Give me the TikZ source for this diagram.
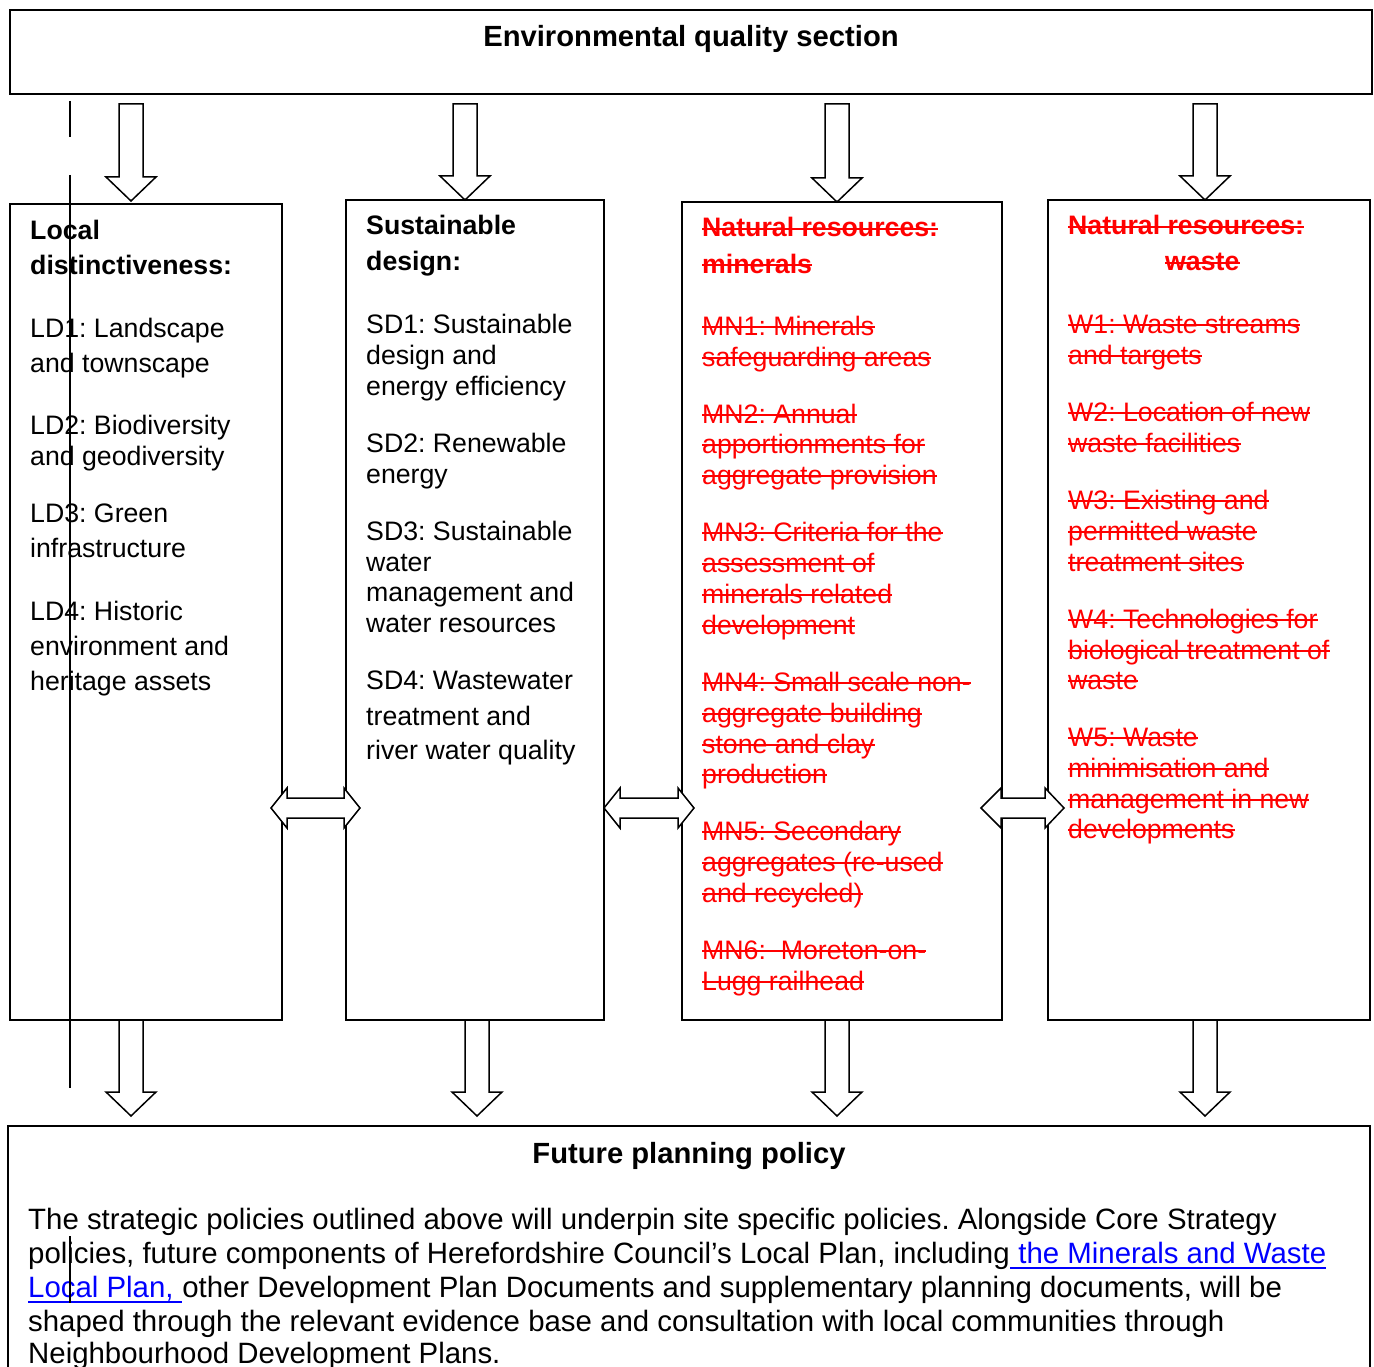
\documentclass[tikz,border=0pt]{standalone}
\usepackage{fontspec}
\setmainfont{Liberation Sans}
\frenchspacing
\definecolor{strk}{RGB}{255,0,0}
\definecolor{lnk}{RGB}{0,0,255}
\newcommand\redline[4]{%
  \node[#1] (#2) at (#3) {#4};
  \draw[strikeline] ([yshift=8pt]#2.base west) -- ([yshift=8pt]#2.base east);}
\newcommand\blockdown[3]{%
  \draw[blk] (#1-12,#2) -- (#1+12,#2) -- (#1+12,#3-24) -- (#1+25,#3-24) -- (#1,#3)
    -- (#1-25,#3-24) -- (#1-12,#3-24) -- cycle;}
\newcommand\blockboth[5]{%
  \draw[blk] (#1,#5) -- (#2,#5-20) -- (#2,#5-10) -- (#3,#5-10) -- (#3,#5-20) -- (#4,#5)
    -- (#3,#5+20) -- (#3,#5+10) -- (#2,#5+10) -- (#2,#5+20) -- cycle;}
\tikzset{
  box/.style={draw, line width=1.8pt, rectangle, inner sep=0pt},
  blk/.style={draw, fill=white, line width=1.5pt, line join=miter},
  txt/.style={anchor=base west, inner sep=0pt, font=\fontsize{26.7}{31}\selectfont},
  hd/.style={anchor=base west, inner sep=0pt, font=\fontsize{26.7}{31}\selectfont\bfseries},
  rtxt/.style={txt, text=strk},
  rhd/.style={hd, text=strk},
  strikeline/.style={draw=strk, line width=2.2pt},
  title/.style={anchor=base, inner sep=0pt, font=\fontsize{29.2}{34}\selectfont\bfseries},
  btxt/.style={anchor=base west, inner sep=0pt, font=\fontsize{29.4}{34}\selectfont},
  artifact/.style={line width=1.5pt}
}
\begin{document}
\begin{tikzpicture}[x=1pt,y=-1pt]
\useasboundingbox (0,0) rectangle (1374,1367);

% boxes
\node[box, minimum width=1362pt, minimum height=84pt] (top) at (691,52) {};
\node[box, minimum width=272pt, minimum height=816pt] (ld) at (146,612) {};
\node[box, minimum width=258pt, minimum height=820pt] (sd) at (475,610) {};
\node[box, minimum width=320pt, minimum height=818pt] (mn) at (842,611) {};
\node[box, minimum width=322pt, minimum height=820pt] (w) at (1209,610) {};
\node[inner sep=0pt, minimum width=1362pt, minimum height=241pt] (fpp) at (689,1246.5) {};
\draw[line width=1.8pt] (fpp.south west) |- (fpp.north east) -- (fpp.south east);

% titles
\node[title] (toptitle) at (691,47) {Environmental quality section};
\node[title] (fpptitle) at (689,1163) {Future planning policy};

% column 1
\node[hd] (ld0a) at (30,240) {Local};
\node[hd] (ld0b) at (30,275) {distinctiveness:};
\node[txt] (ld1a) at (30,337) {LD1: Landscape};
\node[txt] (ld1b) at (30,372) {and townscape};
\node[txt] (ld2a) at (30,434) {LD2: Biodiversity};
\node[txt] (ld2b) at (30,465) {and geodiversity};
\node[txt] (ld3a) at (30,522) {LD3: Green};
\node[txt] (ld3b) at (30,557) {infrastructure};
\node[txt] (ld4a) at (30,620) {LD4: Historic};
\node[txt] (ld4b) at (30,655) {environment and};
\node[txt] (ld4c) at (30,690) {heritage assets};

% column 2
\node[hd] (sd0a) at (366,235) {Sustainable};
\node[hd] (sd0b) at (366,271) {design:};
\node[txt] (sd1a) at (366,333) {SD1: Sustainable};
\node[txt] (sd1b) at (366,364) {design and};
\node[txt] (sd1c) at (366,395) {energy efficiency};
\node[txt] (sd2a) at (366,452) {SD2: Renewable};
\node[txt] (sd2b) at (366,483) {energy};
\node[txt] (sd3a) at (366,540) {SD3: Sustainable};
\node[txt] (sd3b) at (366,571) {water};
\node[txt] (sd3c) at (366,601) {management and};
\node[txt] (sd3d) at (366,632) {water resources};
\node[txt] (sd4a) at (366,689) {SD4: Wastewater};
\node[txt] (sd4b) at (366,725) {treatment and};
\node[txt] (sd4c) at (366,759) {river water quality};

% column 3
\redline{rhd}{mn0a}{702,237}{Natural resources:}
\redline{rhd}{mn0b}{702,273}{minerals}
\redline{rtxt}{mn1a}{702,335}{MN1: Minerals}
\redline{rtxt}{mn1b}{702,366}{safeguarding areas}
\redline{rtxt}{mn2a}{702,423}{MN2: Annual}
\redline{rtxt}{mn2b}{702,453}{apportionments for}
\redline{rtxt}{mn2c}{702,484}{aggregate provision}
\redline{rtxt}{mn3a}{702,541}{MN3: Criteria for the}
\redline{rtxt}{mn3b}{702,572}{assessment of}
\redline{rtxt}{mn3c}{702,603}{minerals related}
\redline{rtxt}{mn3d}{702,634}{development}
\redline{rtxt}{mn4a}{702,691}{MN4: Small scale non-}
\redline{rtxt}{mn4b}{702,722}{aggregate building}
\redline{rtxt}{mn4c}{702,753}{stone and clay}
\redline{rtxt}{mn4d}{702,783}{production}
\redline{rtxt}{mn5a}{702,840}{MN5: Secondary}
\redline{rtxt}{mn5b}{702,871}{aggregates (re-used}
\redline{rtxt}{mn5c}{702,902}{and recycled)}
\redline{rtxt}{mn6a}{702,959}{MN6: \ Moreton-on-}
\redline{rtxt}{mn6b}{702,990}{Lugg railhead}

% column 4
\redline{rhd}{w0a}{1068,235}{Natural resources:}
\redline{rhd}{w0b}{1165,271}{waste}
\redline{rtxt}{w1a}{1068,333}{W1: Waste streams}
\redline{rtxt}{w1b}{1068,364}{and targets}
\redline{rtxt}{w2a}{1068,421}{W2: Location of new}
\redline{rtxt}{w2b}{1068,452}{waste facilities}
\redline{rtxt}{w3a}{1068,509}{W3: Existing and}
\redline{rtxt}{w3b}{1068,540}{permitted waste}
\redline{rtxt}{w3c}{1068,571}{treatment sites}
\redline{rtxt}{w4a}{1068,628}{W4: Technologies for}
\redline{rtxt}{w4b}{1068,659}{biological treatment of}
\redline{rtxt}{w4c}{1068,689}{waste}
\redline{rtxt}{w5a}{1068,746}{W5: Waste}
\redline{rtxt}{w5b}{1068,777}{minimisation and}
\redline{rtxt}{w5c}{1068,808}{management in new}
\redline{rtxt}{w5d}{1068,838}{developments}

% bottom text
\node[btxt] (b1) at (28,1229) {The strategic policies outlined above will underpin site specific policies. Alongside Core Strategy};
\node[btxt] (b2a) at (28,1263) {policies, future components of Herefordshire Council’s Local Plan, including};
\node[btxt, text=lnk] (b2b) at (b2a.base east) {\ the Minerals and Waste};
\draw[lnk, line width=2pt] ([yshift=-5pt]b2b.base west) -- ([yshift=-5pt]b2b.base east);
\node[btxt, text=lnk] (b3a) at (28,1297) {Local Plan,\kern 8.2pt};
\draw[lnk, line width=2pt] ([yshift=-5pt]b3a.base west) -- ([yshift=-5pt]b3a.base east);
\node[btxt] (b3b) at (b3a.base east) {other Development Plan Documents and supplementary planning documents, will be};
\node[btxt] (b4) at (28,1331) {shaped through the relevant evidence base and consultation with local communities through};
\node[btxt] (b5) at (28,1363) {Neighbourhood Development Plans.};

% down arrows (top)
\blockdown{131}{104}{201}
\blockdown{465}{104}{200}
\blockdown{837}{104}{202}
\blockdown{1205}{104}{200}
% down arrows (bottom)
\blockdown{131}{1020}{1116}
\blockdown{477}{1020}{1116}
\blockdown{837}{1020}{1116}
\blockdown{1205}{1020}{1116}
% double arrows
\blockboth{271}{287}{344}{360}{808}
\blockboth{604}{620}{678}{694}{808}
\blockboth{981}{1001}{1045}{1064}{808}

% stray vertical marks
\draw[artifact] (70,101) -- (70,137);
\draw[artifact] (70,175) -- (70,1088);
\draw[artifact] (70,1236) -- (70,1303);
\end{tikzpicture}
\end{document}
